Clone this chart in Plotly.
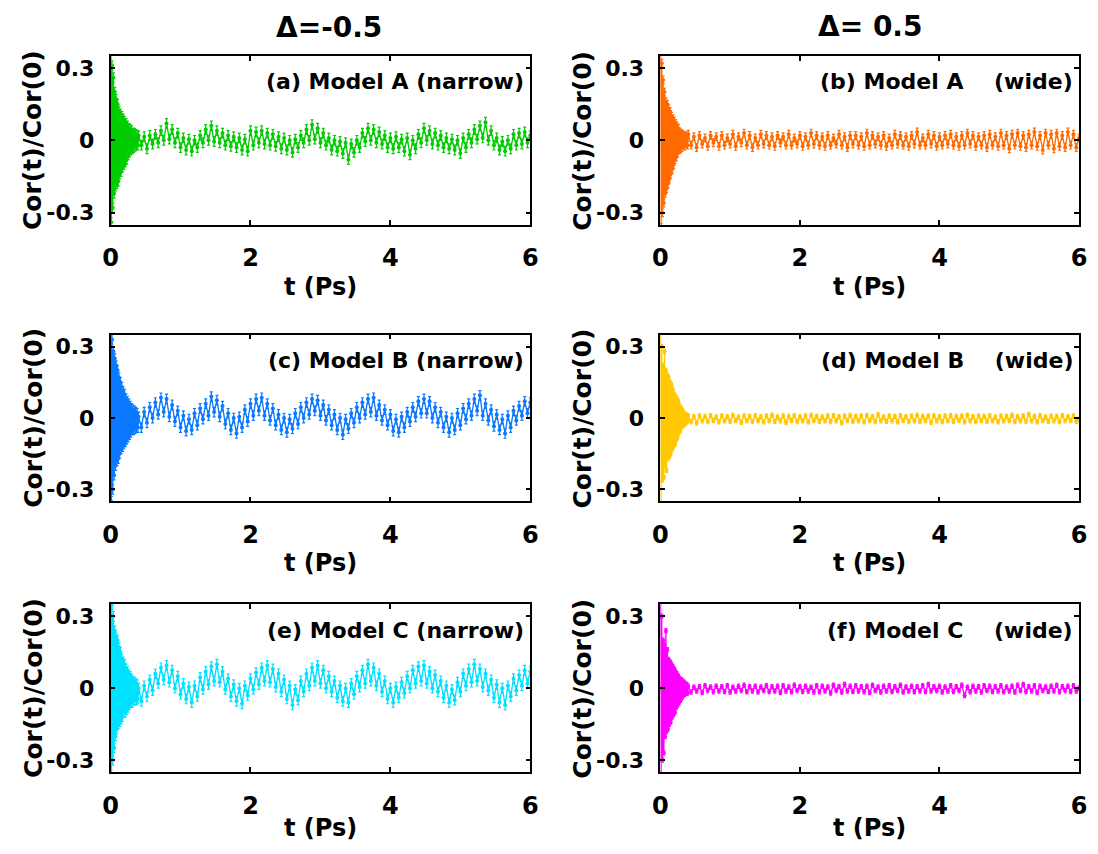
import numpy as np
import plotly.graph_objects as go

# ---------------- data ----------------
# early-time samples: t = 0.00 .. 0.39 step 0.01 ; tail samples: t = 0.40 .. 6.00 step 0.04
a_early = [1.0, -0.34, 0.31, -0.28, 0.26, -0.22, 0.2, -0.19, 0.17, -0.18,
           0.15, -0.17, 0.12, -0.14, 0.11, -0.13, 0.1, -0.11, 0.09, -0.1,
           0.08, -0.09, 0.07, -0.08, 0.06, -0.06, 0.05, -0.05, 0.045, -0.04,
           0.04, -0.035, 0.03, -0.03, 0.03, -0.025, 0.025, -0.02, 0.02, -0.02]
a_tail = [0.02, -0.02, 0.015, -0.035, 0.02, -0.015, 0.025, -0.01, 0.04, 0.0,
          0.07, 0.005, 0.045, -0.01, 0.03, -0.03, 0.01, -0.04, 0.005, -0.045,
          0.0, -0.03, 0.02, -0.01, 0.045, 0.0, 0.06, -0.005, 0.04, -0.01,
          0.03, -0.02, 0.02, -0.025, 0.015, -0.03, 0.01, -0.04, 0.005, -0.045,
          0.04, -0.02, 0.035, -0.01, 0.04, -0.015, 0.03, -0.02, 0.025, -0.025,
          0.015, -0.035, 0.01, -0.04, 0.0, -0.05, 0.005, -0.03, 0.02, -0.01,
          0.045, 0.0, 0.065, 0.005, 0.05, -0.01, 0.03, -0.02, 0.01, -0.04,
          0.0, -0.045, -0.005, -0.055, -0.01, -0.08, -0.015, -0.05, 0.0, -0.03,
          0.03, -0.005, 0.05, 0.0, 0.045, -0.01, 0.035, -0.015, 0.02, -0.03,
          0.01, -0.035, 0.015, -0.03, 0.005, -0.045, 0.01, -0.06, 0.0, -0.035,
          0.025, -0.01, 0.05, 0.0, 0.04, -0.015, 0.03, -0.02, 0.02, -0.03,
          0.01, -0.035, 0.005, -0.04, 0.0, -0.055, 0.01, -0.03, 0.025, -0.01,
          0.045, 0.005, 0.06, 0.01, 0.075, 0.0, 0.04, -0.02, 0.01, -0.04,
          -0.005, -0.045, 0.0, -0.035, 0.025, -0.02, 0.03, -0.015, 0.035, -0.01,
          0.02]

b_early = [1.0, -0.36, 0.32, -0.3, 0.25, -0.26, 0.2, -0.22, 0.16, -0.2,
           0.15, -0.18, 0.13, -0.16, 0.12, -0.14, 0.1, -0.12, 0.09, -0.1,
           0.08, -0.08, 0.07, -0.07, 0.06, -0.05, 0.05, -0.04, 0.035, -0.035,
           0.03, -0.03, 0.025, -0.02, 0.02, -0.025, 0.02, -0.015, 0.015, -0.02]
b_tail = [0.025, -0.02, 0.015, -0.03, 0.02, -0.015, 0.01, -0.025, 0.02, -0.01,
          0.015, -0.025, 0.02, -0.02, 0.01, -0.015, 0.025, -0.025, 0.015, -0.01,
          0.03, -0.02, 0.02, -0.03, 0.01, -0.02, 0.025, -0.015, 0.02, -0.02,
          0.015, -0.025, 0.02, -0.01, 0.015, -0.02, 0.025, -0.02, 0.01, -0.015,
          0.02, -0.025, 0.015, -0.02, 0.03, -0.015, 0.02, -0.02, 0.015, -0.025,
          0.02, -0.02, 0.01, -0.015, 0.025, -0.02, 0.015, -0.03, 0.02, -0.015,
          0.02, -0.02, 0.015, -0.025, 0.03, -0.02, 0.02, -0.015, 0.015, -0.02,
          0.02, -0.025, 0.01, -0.02, 0.025, -0.015, 0.02, -0.02, 0.015, -0.025,
          0.02, -0.015, 0.035, -0.02, 0.01, -0.02, 0.025, -0.015, 0.02, -0.025,
          0.015, -0.02, 0.02, -0.015, 0.025, -0.02, 0.015, -0.025, 0.02, -0.02,
          0.03, -0.015, 0.02, -0.025, 0.015, -0.02, 0.02, -0.03, 0.025, -0.02,
          0.015, -0.025, 0.03, -0.02, 0.02, -0.035, 0.025, -0.02, 0.03, -0.025,
          0.02, -0.03, 0.025, -0.02, 0.035, -0.025, 0.02, -0.04, 0.03, -0.02,
          0.025, -0.035, 0.03, -0.025, 0.02, -0.03, 0.035, -0.02, 0.025, -0.03,
          0.01]

c_early = [1.0, -0.35, 0.33, -0.3, 0.28, -0.24, 0.25, -0.2, 0.22, -0.18,
           0.2, -0.17, 0.17, -0.15, 0.15, -0.13, 0.13, -0.12, 0.11, -0.11,
           0.1, -0.1, 0.08, -0.09, 0.07, -0.08, 0.06, -0.07, 0.05, -0.06,
           0.04, -0.05, 0.035, -0.05, 0.03, -0.045, 0.025, -0.04, 0.02, -0.04]
c_tail = [0.005, -0.04, 0.025, -0.02, 0.045, 0.0, 0.065, 0.015, 0.085, 0.025,
          0.08, 0.005, 0.055, -0.015, 0.03, -0.04, 0.01, -0.055, -0.005, -0.05,
          0.02, -0.03, 0.04, -0.005, 0.06, 0.01, 0.09, 0.025, 0.075, 0.005,
          0.05, -0.025, 0.02, -0.05, 0.0, -0.065, 0.005, -0.04, 0.035, -0.015,
          0.06, 0.01, 0.08, 0.03, 0.085, 0.01, 0.06, -0.01, 0.04, -0.03,
          0.015, -0.05, 0.0, -0.06, -0.005, -0.045, 0.02, -0.025, 0.045, 0.0,
          0.065, 0.015, 0.08, 0.03, 0.075, 0.01, 0.055, -0.01, 0.035, -0.03,
          0.015, -0.05, 0.0, -0.07, -0.005, -0.045, 0.02, -0.02, 0.045, 0.0,
          0.065, 0.015, 0.08, 0.025, 0.085, 0.01, 0.055, -0.01, 0.035, -0.03,
          0.015, -0.055, -0.005, -0.06, 0.005, -0.04, 0.025, -0.015, 0.045, 0.005,
          0.07, 0.02, 0.08, 0.02, 0.07, 0.0, 0.045, -0.02, 0.025, -0.04,
          0.005, -0.06, 0.0, -0.05, 0.02, -0.03, 0.04, -0.005, 0.06, 0.01,
          0.08, 0.03, 0.095, 0.01, 0.06, -0.01, 0.035, -0.035, 0.015, -0.05,
          -0.005, -0.065, 0.01, -0.04, 0.03, -0.01, 0.05, 0.01, 0.07, 0.02,
          0.065]

d_early = [1.0, -0.36, 0.3, -0.26, 0.22, -0.25, 0.28, -0.2, 0.2, -0.22,
           0.18, -0.17, 0.17, -0.16, 0.15, -0.15, 0.14, -0.13, 0.12, -0.12,
           0.1, -0.11, 0.09, -0.09, 0.08, -0.08, 0.07, -0.06, 0.05, -0.05,
           0.04, -0.035, 0.03, -0.03, 0.02, -0.025, 0.015, -0.02, 0.012, -0.015]
d_tail = [0.01, -0.015, 0.005, -0.02, 0.008, -0.012, 0.006, -0.015, 0.01, -0.01,
          0.004, -0.016, 0.008, -0.012, 0.005, -0.014, 0.012, -0.01, 0.004, -0.018,
          0.008, -0.012, 0.006, -0.015, 0.01, -0.01, 0.005, -0.016, 0.008, -0.012,
          0.012, -0.014, 0.004, -0.012, 0.008, -0.018, 0.006, -0.01, 0.01, -0.015,
          0.005, -0.012, 0.008, -0.016, 0.012, -0.01, 0.006, -0.014, 0.004, -0.012,
          0.008, -0.015, 0.01, -0.012, 0.005, -0.02, 0.008, -0.01, 0.012, -0.014,
          0.006, -0.012, 0.008, -0.016, 0.01, -0.01, 0.005, -0.015, 0.014, -0.012,
          0.004, -0.014, 0.008, -0.012, 0.006, -0.016, 0.01, -0.01, 0.005, -0.015,
          0.008, -0.012, 0.012, -0.014, 0.006, -0.01, 0.008, -0.018, 0.01, -0.012,
          0.005, -0.015, 0.008, -0.012, 0.01, -0.014, 0.006, -0.01, 0.008, -0.016,
          0.012, -0.012, 0.005, -0.015, 0.008, -0.01, 0.006, -0.014, 0.01, -0.012,
          0.004, -0.016, 0.008, -0.012, 0.006, -0.01, 0.012, -0.015, 0.005, -0.012,
          0.008, -0.014, 0.015, -0.012, 0.006, -0.016, 0.01, -0.01, 0.004, -0.014,
          0.008, -0.012, 0.006, -0.015, 0.01, -0.012, 0.005, -0.01, 0.008, -0.014,
          -0.005]

e_early = [1.0, -0.36, 0.35, -0.3, 0.3, -0.25, 0.24, -0.2, 0.21, -0.17,
           0.2, -0.15, 0.17, -0.14, 0.15, -0.13, 0.12, -0.12, 0.11, -0.1,
           0.1, -0.1, 0.08, -0.09, 0.07, -0.08, 0.06, -0.07, 0.05, -0.06,
           0.04, -0.06, 0.03, -0.05, 0.025, -0.05, 0.02, -0.05, 0.015, -0.045]
e_tail = [0.0, -0.055, 0.01, -0.035, 0.035, -0.01, 0.06, 0.02, 0.085, 0.035,
          0.095, 0.025, 0.075, 0.0, 0.05, -0.025, 0.02, -0.045, 0.005, -0.06,
          0.01, -0.035, 0.045, -0.005, 0.07, 0.015, 0.09, 0.03, 0.1, 0.025,
          0.07, -0.005, 0.04, -0.035, 0.015, -0.055, 0.0, -0.065, 0.01, -0.03,
          0.04, -0.005, 0.065, 0.015, 0.085, 0.03, 0.095, 0.025, 0.08, 0.005,
          0.06, -0.015, 0.035, -0.045, 0.01, -0.07, -0.005, -0.05, 0.03, -0.015,
          0.06, 0.01, 0.085, 0.03, 0.095, 0.02, 0.075, 0.0, 0.05, -0.015,
          0.03, -0.04, 0.01, -0.055, 0.0, -0.06, 0.02, -0.025, 0.05, 0.005,
          0.075, 0.02, 0.1, 0.03, 0.085, 0.01, 0.06, -0.015, 0.03, -0.045,
          0.0, -0.06, 0.005, -0.04, 0.025, -0.02, 0.05, 0.0, 0.075, 0.02,
          0.09, 0.03, 0.095, 0.02, 0.07, 0.0, 0.055, -0.015, 0.03, -0.04,
          0.01, -0.06, -0.005, -0.05, 0.025, -0.015, 0.06, 0.01, 0.08, 0.025,
          0.1, 0.03, 0.08, 0.005, 0.06, -0.01, 0.035, -0.04, 0.015, -0.06,
          0.0, -0.07, 0.01, -0.035, 0.04, -0.01, 0.055, 0.01, 0.075, 0.02,
          0.07]

f_early = [1.0, -0.36, 0.3, -0.3, 0.2, -0.27, 0.18, -0.2, 0.24, -0.18,
           0.16, -0.17, 0.12, -0.15, 0.11, -0.14, 0.1, -0.12, 0.09, -0.11,
           0.08, -0.1, 0.07, -0.08, 0.06, -0.07, 0.05, -0.06, 0.04, -0.05,
           0.035, -0.04, 0.03, -0.03, 0.025, -0.025, 0.02, -0.02, 0.015, -0.02]
f_tail = [0.008, -0.016, 0.004, -0.012, 0.006, -0.018, 0.01, -0.01, 0.005, -0.015,
          0.008, -0.012, 0.006, -0.014, 0.01, -0.016, 0.004, -0.012, 0.008, -0.01,
          0.012, -0.015, 0.006, -0.012, 0.008, -0.016, 0.005, -0.01, 0.01, -0.014,
          0.006, -0.012, 0.008, -0.018, 0.01, -0.012, 0.005, -0.015, 0.012, -0.01,
          0.006, -0.014, 0.008, -0.012, 0.004, -0.016, 0.01, -0.015, 0.008, -0.012,
          0.005, -0.02, 0.012, -0.01, 0.006, -0.016, 0.015, -0.012, 0.008, -0.014,
          0.01, -0.012, 0.006, -0.015, 0.008, -0.018, 0.012, -0.01, 0.005, -0.016,
          0.008, -0.012, 0.01, -0.014, 0.006, -0.01, 0.012, -0.016, 0.005, -0.012,
          0.008, -0.015, 0.006, -0.012, 0.01, -0.014, 0.015, -0.012, 0.006, -0.01,
          0.008, -0.016, 0.005, -0.012, 0.01, -0.014, 0.006, -0.01, 0.012, -0.03,
          0.004, -0.015, 0.008, -0.012, 0.006, -0.016, 0.01, -0.01, 0.008, -0.014,
          0.006, -0.012, 0.01, -0.015, 0.005, -0.012, 0.008, -0.016, 0.012, -0.01,
          0.015, -0.014, 0.006, -0.012, 0.01, -0.018, 0.008, -0.01, 0.005, -0.014,
          0.008, -0.012, 0.012, -0.015, 0.006, -0.01, 0.008, -0.014, 0.01, -0.012,
          0.0]

panel_labels = ["(a) Model A (narrow)", "(b) Model A\u00a0\u00a0\u00a0\u00a0(wide)",
                "(c) Model B (narrow)", "(d) Model B\u00a0\u00a0\u00a0\u00a0(wide)",
                "(e) Model C (narrow)", "(f) Model C\u00a0\u00a0\u00a0\u00a0(wide)"]
column_titles = ["\u0394=-0.5", "\u0394= 0.5"]
x_ticks = [0, 2, 4, 6]
y_ticks = [-0.3, 0, 0.3]
y_ticktext = ["-0.3", "0", "0.3"]
err_sizes = [0.02, 0.016, 0.02, 0.009, 0.02, 0.009]

colors = ["#00CC00", "#FF6A00", "#0A78FF", "#FFC800", "#00E1FF", "#FF00FF"]
series = [(a_early, a_tail), (b_early, b_tail), (c_early, c_tail),
          (d_early, d_tail), (e_early, e_tail), (f_early, f_tail)]

# ---------------- layout geometry (page pixels) ----------------
PAGE_OFF = 8          # default body margin of the html page
W, H = 1082, 838      # figure size so the page does not overflow the window
col_px = [(104, 530), (662, 1087)]
row_px = [(56, 225), (335, 502), (605, 773)]
xtitle_gap = [62, 62, 56]
title_px = [(326, 28), (875, 27)]
FONT = "DejaVu Sans"


def px_x(p):
    return (p - PAGE_OFF) / W


def px_y(p):
    return 1 - (p - PAGE_OFF) / H


fig = go.Figure()
annotations = []

for i, (early, tail) in enumerate(series):
    r, c = divmod(i, 2)
    n = i + 1
    xa = "x" if n == 1 else f"x{n}"
    ya = "y" if n == 1 else f"y{n}"
    t_early = np.round(np.arange(len(early)) * 0.01, 2)
    t_tail = np.round(0.40 + 0.04 * np.arange(len(tail)), 2)
    t = np.concatenate([t_early, t_tail])
    v = np.array(list(early) + list(tail))
    fig.add_trace(go.Scatter(
        x=t, y=v, mode="lines+markers", xaxis=xa, yaxis=ya,
        line=dict(color=colors[i], width=1.3),
        marker=dict(color=colors[i], size=4),
        error_y=dict(type="constant", value=err_sizes[i], color=colors[i],
                     thickness=1.2, width=1.5),
        showlegend=False, cliponaxis=True))

    x0, x1 = col_px[c]
    y0, y1 = row_px[r]
    axis_common = dict(showline=True, linecolor="black", linewidth=1.5,
                       mirror="ticks", ticks="inside", ticklen=5, tickwidth=1.5,
                       tickcolor="black", showgrid=False, zeroline=False)
    fig.layout[("xaxis" if n == 1 else f"xaxis{n}")] = dict(
        domain=[px_x(x0), px_x(x1)], anchor=ya, range=[0, 6],
        tickvals=x_ticks, ticklabelstandoff=11,
        tickfont=dict(family=FONT, size=24, color="black", weight="bold"),
        **axis_common)
    fig.layout[("yaxis" if n == 1 else f"yaxis{n}")] = dict(
        domain=[px_y(y1), px_y(y0)], anchor=xa, range=[-0.35, 0.35],
        tickvals=y_ticks, ticktext=y_ticktext, ticklabelstandoff=10,
        tickfont=dict(family=FONT, size=22, color="black", weight="bold"),
        **axis_common)

    # panel label
    annotations.append(dict(
        text=panel_labels[i], x=px_x(x1 - 4), y=px_y(y0 + 26),
        xref="paper", yref="paper", xanchor="right", yanchor="middle",
        showarrow=False,
        font=dict(family=FONT, size=22, color="black", weight="bold")))
    # y title
    annotations.append(dict(
        text="Cor(t)/Cor(0)", x=px_x(x0 - 79), y=px_y((y0 + y1) / 2),
        xref="paper", yref="paper", xanchor="center", yanchor="middle",
        textangle=-90, showarrow=False,
        font=dict(family=FONT, size=25, color="black", weight="bold")))
    # x title
    annotations.append(dict(
        text="t (Ps)", x=px_x((x0 + x1) / 2), y=px_y(y1 + xtitle_gap[r]),
        xref="paper", yref="paper", xanchor="center", yanchor="middle",
        showarrow=False,
        font=dict(family=FONT, size=24, color="black", weight="bold")))

for c, title in enumerate(column_titles):
    tx, ty = title_px[c]
    annotations.append(dict(
        text=title, x=px_x(tx), y=px_y(ty),
        xref="paper", yref="paper", xanchor="center", yanchor="middle",
        showarrow=False,
        font=dict(family=FONT, size=28, color="black", weight="bold")))

fig.update_layout(
    width=W, height=H, margin=dict(l=0, r=0, t=0, b=0),
    paper_bgcolor="white", plot_bgcolor="white",
    annotations=annotations)

fig.write_html("out.html")
